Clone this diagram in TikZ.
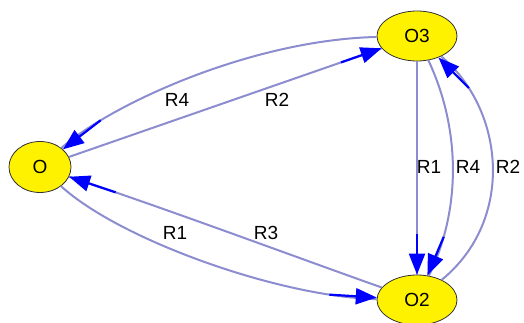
\documentclass[tikz,border=0pt]{standalone}
\usepackage{fontspec}
\setmainfont{Liberation Sans}
\usetikzlibrary{arrows.meta,shapes.geometric}
\definecolor{edgec}{RGB}{140,140,208}
\begin{document}
\begin{tikzpicture}[x=1pt,y=-1pt,
  font=\fontsize{19}{22}\selectfont,
  st/.style={ellipse, draw=black!80, fill=yellow, line width=0.8pt,
    minimum width=80pt, minimum height=50pt, inner sep=0pt},
  edge/.style={draw=edgec, line width=2pt},
  tipline/.style={draw=blue, fill=blue, line width=2.2pt, arrows={-Triangle[length=21pt,width=16pt]}},
  lab/.style={inner sep=0pt}]
\useasboundingbox (0,0) rectangle (524,323);
\node[st, minimum width=62pt, minimum height=51pt] (O) at (40,167) {O};
\node[st] (O3) at (417,36) {O3};
\node[st] (O2) at (417,300) {O2};
% O3 -> O  (R4)
\draw[edge] (O3) .. controls (250,40) and (110,105) .. coordinate[pos=0.8] (e1) (O);
\draw[tipline] (e1) -- (O);
% O -> O3 (R2)
\draw[edge] (O) -- coordinate[pos=0.87] (e2) (O3);
\draw[tipline] (e2) -- (O3);
% O -> O2 (R1)
\draw[edge] (O) .. controls (120,240) and (280,297) .. coordinate[pos=0.85] (e3) (O2);
\draw[tipline] (e3) -- (O2);
% O2 -> O (R3)
\draw[edge] (O2) .. controls (290,255) and (170,210) .. coordinate[pos=0.85] (e4) (O);
\draw[tipline] (e4) -- (O);
% O3 -> O2 (R1)
\draw[edge] (O3) -- coordinate[pos=0.81] (e5) (O2);
\draw[tipline] (e5) -- (O2);
% O3 -> O2 (R4)
\draw[edge] (O3) .. controls (461,130) and (461,210) .. coordinate[pos=0.81] (e6) (O2);
\draw[tipline] (e6) -- (O2);
% O2 -> O3 (R2)
\draw[edge] (O2) .. controls (515,220) and (505,110) .. coordinate[pos=0.83] (e7) (O3);
\draw[tipline] (e7) -- (O3);
% labels
\node[lab] (l1) at (177,100) {R4};
\node[lab] (l2) at (277,100) {R2};
\node[lab] (l3) at (175,233) {R1};
\node[lab] (l4) at (266,233) {R3};
\node[lab] (l5) at (429,167) {R1};
\node[lab] (l6) at (468,167) {R4};
\node[lab] (l7) at (508,167) {R2};
\end{tikzpicture}
\end{document}
